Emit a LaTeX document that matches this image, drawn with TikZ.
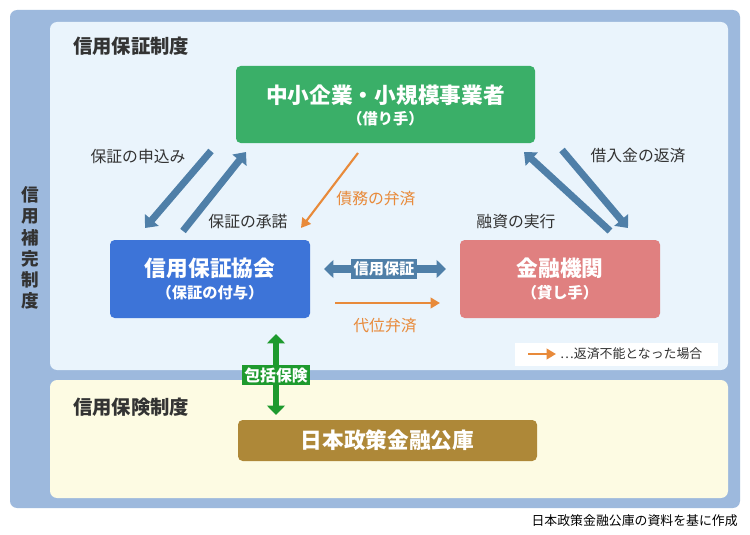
\documentclass[tikz,border=0pt]{standalone}
\usepackage{fontspec}
\setmainfont{Noto Sans CJK JP}
\usetikzlibrary{arrows.meta}
\definecolor{outerb}{HTML}{9DB9DD}
\definecolor{panelb}{HTML}{EAF4FC}
\definecolor{panely}{HTML}{FDFBE3}
\definecolor{gbox}{HTML}{3AAF68}
\definecolor{bbox}{HTML}{3D74D8}
\definecolor{rbox}{HTML}{E08080}
\definecolor{brbox}{HTML}{AE8838}
\definecolor{steel}{HTML}{4F7FA8}
\definecolor{oran}{HTML}{E88A3A}
\definecolor{gr}{HTML}{1E9A2E}
\definecolor{txt}{HTML}{333333}
\begin{document}
\begin{tikzpicture}[x=0.03cm,y=-0.03cm,
  box/.style={text=white,align=center,inner sep=0pt},
  lab/.style={text=txt,font=\fontsize{13.5}{15}\selectfont},
  olab/.style={text=oran,font=\fontsize{13.5}{15}\selectfont},
  big/.style={-{Triangle[length=9pt,width=15pt]},line width=6pt,steel},
  oarr/.style={-{Triangle[length=8pt,width=9pt]},line width=1.8pt,oran}]
\useasboundingbox (0,0) rectangle (750,535);
\fill[white] (0,0) rectangle (750,535);
\fill[outerb,rounded corners=6pt] (10,10) rectangle (740,508);
\fill[panelb,rounded corners=6pt] (50,22) rectangle (728,370);
\fill[panely,rounded corners=6pt] (50,380) rectangle (728,498);
\node[anchor=west,text=txt,font=\fontsize{16.5}{18}\selectfont\bfseries] (t1) at (69,46) {信用保証制度};
\node[anchor=west,text=txt,font=\fontsize{16.5}{18}\selectfont\bfseries] (t2) at (69,407) {信用保険制度};
\node[text=txt,font=\fontsize{15}{18}\selectfont\bfseries,align=center] (t3) at (30,248) {信\\用\\補\\完\\制\\度};
\fill[gbox,rounded corners=4pt] (236,66) rectangle (535,143);
\node[box,font=\fontsize{18.5}{20}\selectfont\bfseries] (g) at (385.5,95) {中小企業・小規模事業者};
\node[box,font=\fontsize{13}{14}\selectfont\bfseries] (g2) at (385.5,119) {（借り手）};
\fill[bbox,rounded corners=4pt] (110,240) rectangle (310,318);
\node[box,font=\fontsize{18.5}{20}\selectfont\bfseries] (b) at (210,268) {信用保証協会};
\node[box,font=\fontsize{13}{14}\selectfont\bfseries] (b2) at (210,293) {（保証の付与）};
\fill[rbox,rounded corners=4pt] (460,240) rectangle (660,318);
\node[box,font=\fontsize{18.5}{20}\selectfont\bfseries] (r) at (560,268) {金融機関};
\node[box,font=\fontsize{13}{14}\selectfont\bfseries] (r2) at (560,293) {（貸し手）};
\fill[brbox,rounded corners=4pt] (238,420) rectangle (537,461);
\node[box,font=\fontsize{18.5}{20}\selectfont\bfseries] (k) at (387.5,440.5) {日本政策金融公庫};
% big arrows
\coordinate (a1s) at (211,151); \coordinate (a1e) at (145,228);
\coordinate (a2s) at (183,231); \coordinate (a2e) at (246,152);
\coordinate (a3s) at (562,150); \coordinate (a3e) at (628,228);
\coordinate (a4s) at (610,231); \coordinate (a4e) at (524,152);
\draw[big] (a1s) -- (a1e);
\draw[big] (a2s) -- (a2e);
\draw[big] (a3s) -- (a3e);
\draw[big] (a4s) -- (a4e);
\node[lab] (l1) at (138,156) {保証の申込み};
\node[lab] (l2) at (248,222) {保証の承諾};
\node[lab] (l3) at (638,156) {借入金の返済};
\node[lab] (l4) at (516,222) {融資の実行};
\coordinate (o1s) at (358,153); \coordinate (o1e) at (301,228);
\draw[oarr] (o1s) -- (o1e);
\node[olab] (l5) at (376,199) {債務の弁済};
% double arrow
\coordinate (d1) at (324,269); \coordinate (d2) at (446,269);
\draw[steel,line width=6pt,{Triangle[length=8pt,width=15pt]}-{Triangle[length=8pt,width=15pt]}] (d1) -- (d2);
\node[fill=steel,text=white,font=\fontsize{13}{14}\selectfont\bfseries,inner sep=2pt] (sh) at (384,269) {信用保証};
\coordinate (o2s) at (335,303); \coordinate (o2e) at (440,303);
\draw[oarr] (o2s) -- (o2e);
\node[olab] (l6) at (385,326) {代位弁済};
% legend
\fill[white] (515,343) rectangle (718,366);
\coordinate (lg1) at (528,354); \coordinate (lg2) at (556,354);
\draw[oarr] (lg1) -- (lg2);
\node[anchor=west,text=txt,font=\fontsize{11}{12}\selectfont,inner sep=0pt] (lg) at (560,354) {…返済不能となった場合};
% green vertical
\coordinate (v1) at (276,334); \coordinate (v2) at (276,415);
\draw[gr,line width=5pt,{Triangle[length=8pt,width=15pt]}-{Triangle[length=8pt,width=15pt]}] (v1) -- (v2);
\node[fill=gr,text=white,font=\fontsize{13.5}{15}\selectfont\bfseries,inner sep=2pt] (hk) at (276,375) {包括保険};
\node[anchor=east,text=black,font=\fontsize{11}{12}\selectfont,inner sep=0pt] (src) at (738,521) {日本政策金融公庫の資料を基に作成};
\end{tikzpicture}
\end{document}
